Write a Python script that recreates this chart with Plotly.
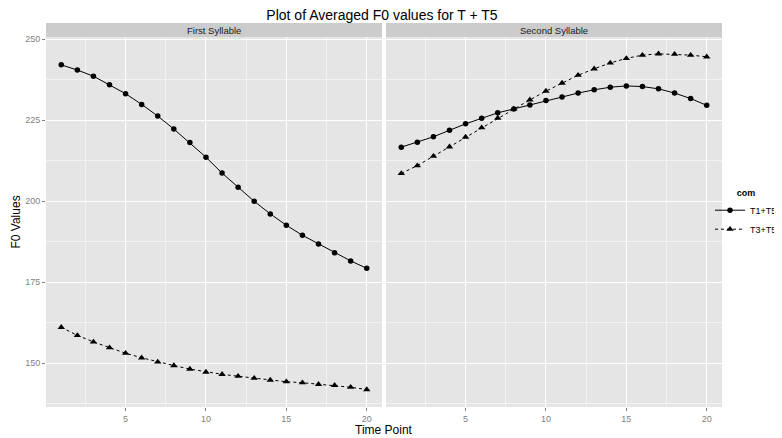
import plotly.graph_objects as go

time_points = list(range(1, 21))
series_names = ["T1+T5", "T3+T5"]
panel_titles = ["First Syllable", "Second Syllable"]

first_t1 = [242.1, 240.5, 238.6, 236.0, 233.2, 229.9, 226.3, 222.3, 218.1, 213.6,
            208.7, 204.3, 200.0, 196.1, 192.6, 189.5, 186.8, 184.1, 181.6, 179.3]
first_t3 = [161.1, 158.6, 156.6, 154.8, 153.1, 151.7, 150.4, 149.3, 148.2, 147.3,
            146.6, 146.0, 145.4, 144.8, 144.3, 144.0, 143.5, 143.2, 142.6, 141.9]
second_t1 = [216.7, 218.2, 219.9, 221.9, 223.9, 225.6, 227.3, 228.5, 229.7, 231.1,
             232.2, 233.4, 234.4, 235.2, 235.6, 235.4, 234.7, 233.4, 231.7, 229.6]
second_t3 = [208.6, 211.0, 213.9, 216.8, 219.8, 222.7, 225.7, 228.5, 231.3, 234.0,
             236.5, 238.9, 240.9, 242.7, 244.1, 245.1, 245.5, 245.4, 245.1, 244.6]

y_ticks = [150, 175, 200, 225, 250]
x_ticks = [5, 10, 15, 20]
x_minor = [2.5, 7.5, 12.5, 17.5]
y_minor = [137.5, 162.5, 187.5, 212.5, 237.5]

FONT = "Liberation Sans, Arial, sans-serif"
# page body has an 8px margin; figure sized so it ends at the window edges
W, H = 774, 430
ML, MR, MT, MB = 38, 60, 15, 31
pw = W - ML - MR
ph = H - MT - MB
strip_px = 14
panel_top = 1 - strip_px / ph
left_dom = [0, 336 / pw]
right_dom = [340 / pw, 1]
panel_bottom_px = H - MB  # figure px

fig = go.Figure()

styles = {
    "T1+T5": dict(dash="solid", symbol="circle", size=5.5),
    "T3+T5": dict(dash="3px,3px", symbol="triangle-up", size=6.5),
}

panel_data = [
    ("x", "y", {"T1+T5": first_t1, "T3+T5": first_t3}),
    ("x2", "y2", {"T1+T5": second_t1, "T3+T5": second_t3}),
]

for i, (xa, ya, d) in enumerate(panel_data):
    for name in series_names:
        st = styles[name]
        fig.add_trace(go.Scatter(
            x=time_points, y=d[name], xaxis=xa, yaxis=ya,
            mode="lines+markers", name=name, legendgroup=name,
            showlegend=(i == 0),
            line=dict(color="black", width=1, dash=st["dash"]),
            marker=dict(color="black", symbol=st["symbol"], size=st["size"]),
        ))

xr = [0.05, 20.95]
yr = [136.5, 250.7]
minor_style = dict(showgrid=True, gridcolor="#F2F2F2", gridwidth=0.6, ticks="")
axis_common = dict(
    showline=False, zeroline=False,
    gridcolor="white", gridwidth=1.1,
    ticks="outside", ticklen=3, tickcolor="#7F7F7F", tickwidth=1,
    tickfont=dict(family=FONT, size=9, color="#7F7F7F"),
)

fig.update_layout(
    width=W, height=H,
    margin=dict(l=ML, r=MR, t=MT, b=MB, autoexpand=False),
    paper_bgcolor="white",
    plot_bgcolor="#E5E5E5",
    font=dict(family=FONT, color="black"),
    title=dict(text="Plot of Averaged F0 values for T + T5", x=374 / W,
               xanchor="center", y=1 - 7.5 / H, yanchor="middle",
               font=dict(size=14, color="black", family=FONT)),
    xaxis=dict(axis_common, domain=left_dom, range=xr, tickvals=x_ticks,
               anchor="y", minor=dict(minor_style, tickvals=x_minor)),
    xaxis2=dict(axis_common, domain=right_dom, range=xr, tickvals=x_ticks,
                anchor="y2", minor=dict(minor_style, tickvals=x_minor)),
    yaxis=dict(axis_common, domain=[0, panel_top], range=yr, tickvals=y_ticks,
               anchor="x", minor=dict(minor_style, tickvals=y_minor)),
    yaxis2=dict(axis_common, domain=[0, panel_top], range=yr, tickvals=y_ticks,
                anchor="x2", showticklabels=False, ticks="",
                minor=dict(minor_style, tickvals=y_minor)),
    legend=dict(
        title=dict(text="<b>com</b>", font=dict(size=9, family=FONT), side="top center"),
        x=(702 - ML) / pw, xanchor="left", y=(panel_bottom_px - 206) / ph, yanchor="middle",
        font=dict(size=9, family=FONT), itemwidth=30,
        bgcolor="rgba(0,0,0,0)", tracegroupgap=0,
    ),
    showlegend=True,
)

# facet strips
for dom, label in zip([left_dom, right_dom], panel_titles):
    fig.add_shape(type="rect", xref="paper", yref="paper",
                  x0=dom[0], x1=dom[1], y0=panel_top, y1=1,
                  fillcolor="#CCCCCC", line=dict(width=0), layer="below")
    fig.add_annotation(text=label, xref="paper", yref="paper",
                       x=(dom[0] + dom[1]) / 2, y=(panel_top + 1) / 2,
                       xanchor="center", yanchor="middle", showarrow=False,
                       font=dict(size=9.5, family=FONT, color="#1A1A1A"))

# axis titles
fig.add_annotation(text="Time Point", xref="paper", yref="paper",
                   x=0.5, y=-(422 - panel_bottom_px) / ph, xanchor="center", yanchor="middle",
                   showarrow=False, font=dict(size=12, family=FONT, color="black"))
fig.add_annotation(text="F0 Values", xref="paper", yref="paper",
                   x=(7 - ML) / pw, y=(panel_bottom_px - 214.5) / ph, xanchor="center", yanchor="middle",
                   textangle=-90, showarrow=False,
                   font=dict(size=12, family=FONT, color="black"))

fig.write_html("out.html")
